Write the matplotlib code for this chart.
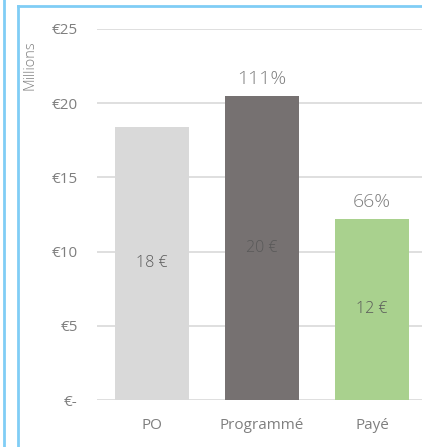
import matplotlib.pyplot as plt
from matplotlib.lines import Line2D

categories = ['PO', 'Programmé', 'Payé']
values = [18.4, 20.5, 12.2]
inner_labels = ['18 €', '20 €', '12 €']
pct_labels = ['', '111%', '66%']
colors = ['#d9d9d9', '#767171', '#a9d18e']
yticks = [0, 5, 10, 15, 20, 25]
ytick_labels = ['€-', '€5', '€10', '€15', '€20', '€25']

plt.rcParams['font.family'] = ['Open Sans', 'DejaVu Sans']

W, H = 422, 447
fig = plt.figure(figsize=(W / 100, H / 100), dpi=100)
ax = fig.add_axes([97 / W, 1 - 400 / H, (W - 97) / W, (400 - 29) / H])

x = range(len(categories))
ax.bar(x, values, width=0.67, color=colors, zorder=2)
ax.set_xlim(-0.5, 2.5 - 5 / 110)
ax.set_ylim(0, 25)

for i, v in enumerate(values):
    ax.text(i, v / 2, inner_labels[i], ha='center', va='center',
            fontsize=11.5, color='#595959', fontweight='light', zorder=3)
    if pct_labels[i]:
        ax.text(i, v + 0.55, pct_labels[i], ha='center', va='bottom',
                fontsize=14, color='#7f7f7f', fontweight='light')

ax.set_yticks(yticks)
ax.set_yticklabels(ytick_labels)
ax.yaxis.grid(True, color='#d9d9d9', linewidth=1.2, zorder=0)
ax.set_xticks(list(x))
ax.set_xticklabels(categories)
ax.tick_params(axis='both', length=0, labelsize=11, labelcolor='#7f7f7f')
ax.tick_params(axis='y', pad=14)
ax.tick_params(axis='x', pad=13)
for s in ax.spines.values():
    s.set_visible(False)
ax.set_axisbelow(True)

fig.text(30 / W, 1 - 65 / H, 'Millions', rotation=90, ha='center', va='center',
         fontsize=10.5, color='#7f7f7f', fontweight='light')

blue = '#80cdf5'
fig.add_artist(Line2D([3.5 / W, 3.5 / W], [0, 1], color=blue, linewidth=2))
fig.add_artist(Line2D([17.5 / W, 17.5 / W], [0, 1 - 6 / H], color=blue, linewidth=2))
fig.add_artist(Line2D([17.5 / W, 1], [1 - 6 / H, 1 - 6 / H], color=blue, linewidth=2))

fig.savefig('out.png', dpi=100)
